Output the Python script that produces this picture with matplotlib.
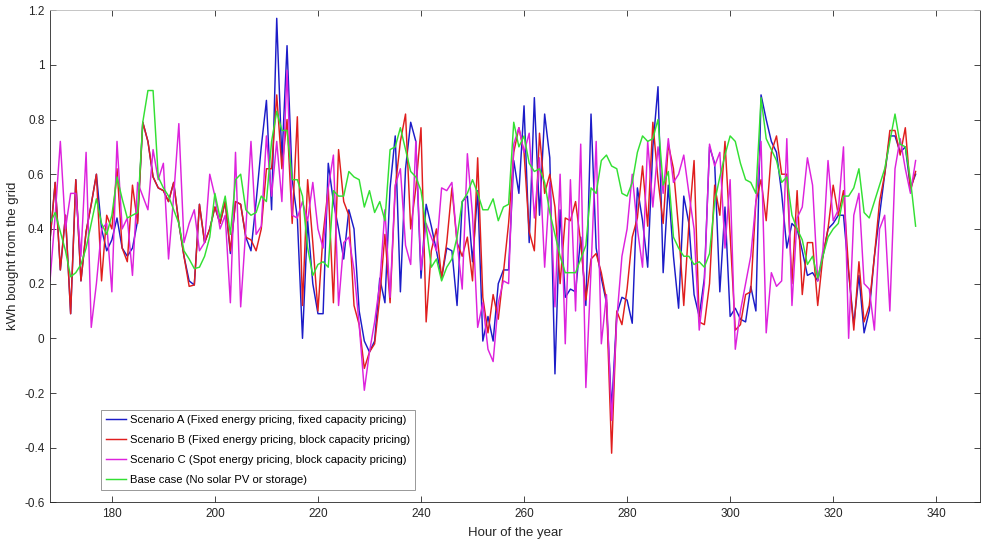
import numpy as np
import matplotlib
matplotlib.use("Agg")
import matplotlib.pyplot as plt

plt.rcParams['font.family'] = ['Liberation Sans', 'DejaVu Sans']

hours = list(range(168, 337))

scenario_b = [0.36, 0.57, 0.25, 0.45, 0.09, 0.58, 0.21, 0.39, 0.49, 0.60,
              0.21, 0.45, 0.40, 0.62, 0.33, 0.28, 0.56, 0.42, 0.79, 0.72,
              0.59, 0.55, 0.54, 0.50, 0.57, 0.42, 0.30, 0.19, 0.195, 0.49,
              0.35, 0.40, 0.48, 0.42, 0.50, 0.32, 0.50, 0.49, 0.37, 0.36,
              0.32, 0.40, 0.62, 0.62, 0.89, 0.62, 0.80, 0.42, 0.81, 0.12,
              0.58, 0.35, 0.10, 0.38, 0.55, 0.13, 0.69, 0.50, 0.45, 0.12,
              0.05, -0.11, -0.05, -0.02, 0.15, 0.38, 0.13, 0.55, 0.72, 0.82,
              0.40, 0.55, 0.77, 0.06, 0.32, 0.40, 0.22, 0.35, 0.55, 0.35,
              0.30, 0.37, 0.21, 0.66, 0.15, 0.02, 0.16, 0.07, 0.24, 0.42,
              0.68, 0.77, 0.68, 0.39, 0.32, 0.75, 0.53, 0.60, 0.48, 0.20,
              0.44, 0.43, 0.50, 0.35, 0.14, 0.29, 0.31, 0.24, 0.14, -0.42,
              0.10, 0.05, 0.18, 0.37, 0.44, 0.63, 0.41, 0.79, 0.58, 0.42,
              0.71, 0.62, 0.40, 0.12, 0.42, 0.65, 0.06, 0.05, 0.20, 0.56,
              0.45, 0.72, 0.38, 0.03, 0.05, 0.16, 0.17, 0.50, 0.58, 0.43,
              0.68, 0.74, 0.60, 0.60, 0.20, 0.54, 0.16, 0.35, 0.35, 0.12,
              0.30, 0.40, 0.56, 0.45, 0.54, 0.25, 0.03, 0.28, 0.06, 0.12,
              0.30, 0.50, 0.60, 0.76, 0.76, 0.67, 0.77, 0.54, 0.61]

scenario_a = [0.36, 0.57, 0.25, 0.45, 0.09, 0.58, 0.21, 0.39, 0.49, 0.60,
              0.40, 0.32, 0.36, 0.44, 0.33, 0.30, 0.33, 0.43, 0.79, 0.72,
              0.59, 0.55, 0.54, 0.50, 0.57, 0.42, 0.30, 0.21, 0.195, 0.49,
              0.35, 0.40, 0.48, 0.42, 0.50, 0.31, 0.50, 0.49, 0.37, 0.32,
              0.50, 0.70, 0.87, 0.47, 1.17, 0.65, 1.07, 0.58, 0.44, 0.00,
              0.43, 0.20, 0.09, 0.09, 0.64, 0.50, 0.40, 0.29, 0.47, 0.40,
              0.10, -0.01, -0.05, -0.01, 0.22, 0.13, 0.55, 0.74, 0.17, 0.62,
              0.79, 0.72, 0.22, 0.49, 0.41, 0.32, 0.22, 0.33, 0.32, 0.12,
              0.50, 0.52, 0.28, 0.54, -0.01, 0.08, -0.01, 0.20, 0.25, 0.25,
              0.65, 0.53, 0.85, 0.35, 0.88, 0.45, 0.82, 0.66, -0.13, 0.47,
              0.15, 0.18, 0.17, 0.37, 0.12, 0.82, 0.33, 0.22, 0.13, -0.26,
              0.09, 0.15, 0.14, 0.055, 0.55, 0.43, 0.26, 0.70, 0.92, 0.24,
              0.56, 0.30, 0.11, 0.52, 0.42, 0.16, 0.08, 0.22, 0.70, 0.64,
              0.17, 0.48, 0.08, 0.11, 0.07, 0.06, 0.19, 0.10, 0.89, 0.80,
              0.72, 0.68, 0.53, 0.33, 0.42, 0.40, 0.32, 0.23, 0.24, 0.21,
              0.30, 0.40, 0.42, 0.45, 0.45, 0.24, 0.05, 0.23, 0.02, 0.10,
              0.30, 0.45, 0.60, 0.74, 0.74, 0.68, 0.70, 0.55, 0.60]

scenario_c = [0.21, 0.45, 0.72, 0.40, 0.53, 0.53, 0.30, 0.68, 0.04, 0.20,
              0.40, 0.42, 0.17, 0.72, 0.40, 0.44, 0.23, 0.57, 0.52, 0.47,
              0.69, 0.58, 0.64, 0.29, 0.52, 0.785, 0.35, 0.42, 0.47, 0.32,
              0.35, 0.60, 0.52, 0.40, 0.45, 0.13, 0.68, 0.115, 0.40, 0.72,
              0.38, 0.41, 0.74, 0.52, 0.72, 0.50, 0.98, 0.45, 0.44, 0.50,
              0.43, 0.57, 0.40, 0.33, 0.55, 0.67, 0.12, 0.35, 0.37, 0.25,
              0.05, -0.19, -0.05, 0.06, 0.20, 0.47, 0.15, 0.56, 0.62, 0.34,
              0.27, 0.72, 0.25, 0.42, 0.37, 0.32, 0.55, 0.54, 0.57, 0.35,
              0.18, 0.675, 0.45, 0.04, 0.13, -0.04, -0.085, 0.13, 0.21, 0.20,
              0.71, 0.77, 0.68, 0.75, 0.44, 0.66, 0.26, 0.57, 0.115, 0.60,
              -0.02, 0.58, 0.10, 0.71, -0.18, 0.25, 0.72, -0.02, 0.16, -0.30,
              0.07, 0.30, 0.40, 0.60, 0.40, 0.26, 0.72, 0.48, 0.70, 0.53,
              0.73, 0.57, 0.60, 0.67, 0.53, 0.40, 0.03, 0.20, 0.71, 0.63,
              0.68, 0.33, 0.58, -0.04, 0.10, 0.20, 0.30, 0.50, 0.72, 0.02,
              0.24, 0.19, 0.21, 0.73, 0.12, 0.44, 0.48, 0.66, 0.56, 0.21,
              0.32, 0.65, 0.43, 0.47, 0.70, 0.00, 0.45, 0.53, 0.20, 0.18,
              0.03, 0.40, 0.45, 0.10, 0.62, 0.73, 0.62, 0.53, 0.65]

base_case = [0.42, 0.46, 0.39, 0.32, 0.225, 0.24, 0.27, 0.33, 0.42, 0.51,
             0.42, 0.38, 0.45, 0.59, 0.51, 0.44, 0.45, 0.46, 0.79, 0.906,
             0.906, 0.59, 0.55, 0.52, 0.47, 0.42, 0.32, 0.29, 0.255, 0.26,
             0.30, 0.37, 0.53, 0.44, 0.52, 0.38, 0.58, 0.60, 0.47, 0.45,
             0.46, 0.52, 0.50, 0.72, 0.83, 0.76, 0.76, 0.58, 0.58, 0.52,
             0.33, 0.23, 0.27, 0.28, 0.26, 0.54, 0.52, 0.52, 0.61, 0.59,
             0.58, 0.48, 0.54, 0.46, 0.50, 0.43, 0.69, 0.70, 0.77, 0.69,
             0.61, 0.59, 0.54, 0.41, 0.26, 0.29, 0.21, 0.26, 0.29, 0.37,
             0.50, 0.53, 0.58, 0.53, 0.47, 0.47, 0.51, 0.43, 0.48, 0.49,
             0.79, 0.70, 0.74, 0.64, 0.61, 0.62, 0.57, 0.46, 0.38, 0.30,
             0.24, 0.24, 0.24, 0.29, 0.34, 0.55, 0.53, 0.65, 0.67, 0.63,
             0.62, 0.53, 0.52, 0.57, 0.68, 0.74, 0.72, 0.73, 0.80, 0.56,
             0.61, 0.37, 0.33, 0.30, 0.30, 0.27, 0.28, 0.26, 0.31, 0.50,
             0.59, 0.67, 0.74, 0.72, 0.64, 0.58, 0.57, 0.53, 0.88, 0.73,
             0.69, 0.65, 0.57, 0.59, 0.45, 0.40, 0.36, 0.27, 0.30, 0.22,
             0.30, 0.37, 0.40, 0.42, 0.52, 0.52, 0.55, 0.62, 0.46, 0.44,
             0.50, 0.56, 0.62, 0.72, 0.82, 0.71, 0.70, 0.58, 0.41]

labels = ["Scenario A (Fixed energy pricing, fixed capacity pricing)",
          "Scenario B (Fixed energy pricing, block capacity pricing)",
          "Scenario C (Spot energy pricing, block capacity pricing)",
          "Base case (No solar PV or storage)"]
colors = ["#1c1cc8", "#e01e1e", "#dd22dd", "#33e033"]

xticks = [180, 200, 220, 240, 260, 280, 300, 320, 340]
yticks = [-0.6, -0.4, -0.2, 0, 0.2, 0.4, 0.6, 0.8, 1, 1.2]
ytick_labels = ["-0.6", "-0.4", "-0.2", "0", "0.2", "0.4", "0.6", "0.8", "1", "1.2"]

fig = plt.figure(figsize=(9.81, 5.47), dpi=100)
ax = fig.add_axes([0.051, 0.0815, 0.948, 0.9])

for ser, lab, col in zip([scenario_a, scenario_b, scenario_c, base_case], labels, colors):
    ax.plot(hours, ser, color=col, lw=1.05, label=lab)

ax.set_xlim(168, 348.5)
ax.set_ylim(-0.6, 1.2)
ax.set_xticks(xticks)
ax.set_yticks(yticks)
ax.set_yticklabels(ytick_labels)
ax.tick_params(axis='both', direction='in', top=True, right=True, length=4,
               labelsize=8.5, colors='#262626', width=0.6, pad=4)
for sp in ax.spines.values():
    sp.set_color('#262626')
    sp.set_linewidth(0.6)
ax.spines['top'].set_color('#bbbbbb')

ax.set_xlabel("Hour of the year", fontsize=9.5, color='#262626', labelpad=5)
ax.set_ylabel("kWh bought from the grid", fontsize=9.5, color='#262626', labelpad=4)

leg = ax.legend(loc='lower left', bbox_to_anchor=(0.055, 0.025), borderaxespad=0,
                fontsize=8.1, handlelength=1.8, handletextpad=0.3, labelspacing=0.9,
                fancybox=False, framealpha=1, edgecolor='#888888', borderpad=0.45)
leg.get_frame().set_linewidth(0.6)

fig.savefig("out.png", dpi=100)
